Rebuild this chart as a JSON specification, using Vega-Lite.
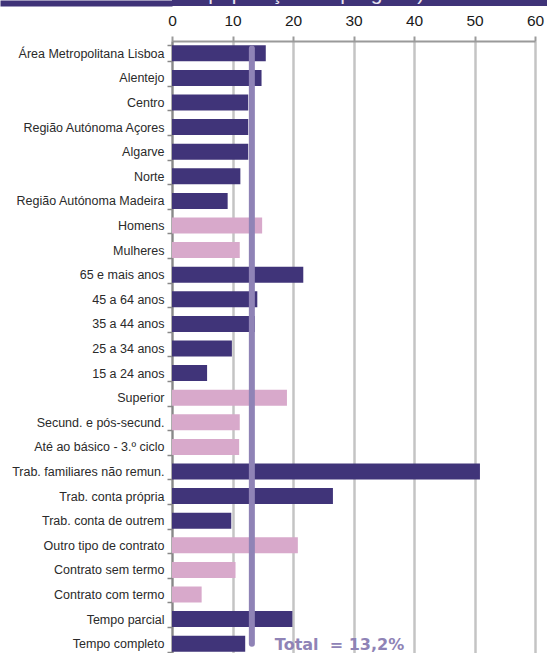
{
  "$schema": "https://vega.github.io/schema/vega-lite/v6.json",
  "padding": {"left": -3, "top": 0, "right": 0, "bottom": 0},
  "background": "white",
  "spacing": 7,
  "config": {"view": {"stroke": null}},
  "datasets": {
    "bars": [
      {"cat": "Área Metropolitana Lisboa", "v": 15.5, "g": "d"},
      {"cat": "Alentejo", "v": 14.8, "g": "d"},
      {"cat": "Centro", "v": 12.6, "g": "d"},
      {"cat": "Região Autónoma Açores", "v": 12.6, "g": "d"},
      {"cat": "Algarve", "v": 12.6, "g": "d"},
      {"cat": "Norte", "v": 11.3, "g": "d"},
      {"cat": "Região Autónoma Madeira", "v": 9.2, "g": "d"},
      {"cat": "Homens", "v": 14.9, "g": "p"},
      {"cat": "Mulheres", "v": 11.2, "g": "p"},
      {"cat": "65 e mais anos", "v": 21.7, "g": "d"},
      {"cat": "45 a 64 anos", "v": 14.1, "g": "d"},
      {"cat": "35 a 44 anos", "v": 13.7, "g": "d"},
      {"cat": "25 a 34 anos", "v": 9.9, "g": "d"},
      {"cat": "15 a 24 anos", "v": 5.8, "g": "d"},
      {"cat": "Superior", "v": 19.0, "g": "p"},
      {"cat": "Secund. e pós-secund.", "v": 11.2, "g": "p"},
      {"cat": "Até ao básico - 3.º ciclo", "v": 11.1, "g": "p"},
      {"cat": "Trab. familiares não remun.", "v": 50.9, "g": "d"},
      {"cat": "Trab. conta própria", "v": 26.6, "g": "d"},
      {"cat": "Trab. conta de outrem", "v": 9.8, "g": "d"},
      {"cat": "Outro tipo de contrato", "v": 20.8, "g": "p"},
      {"cat": "Contrato sem termo", "v": 10.5, "g": "p"},
      {"cat": "Contrato com termo", "v": 4.9, "g": "p"},
      {"cat": "Tempo parcial", "v": 19.9, "g": "d"},
      {"cat": "Tempo completo", "v": 12.1, "g": "d"}
    ],
    "total": [
      {"x": 13.2, "top": "Área Metropolitana Lisboa", "bot": "Tempo completo", "label": "Total\u00a0 = 13,2%", "lx": 17.0}
    ]
  },
  "vconcat": [
    {
      "width": 375,
      "height": 6,
      "view": {"fill": "#3f3378", "stroke": null},
      "data": {"values": [{"t": "(em % da população empregada)"}]},
      "mark": {"type": "text", "clip": true, "fontSize": 21, "font": "Liberation Sans", "color": "#e8e5f2", "baseline": "alphabetic", "dy": -3, "dx": -91},
      "encoding": {
        "text": {"field": "t", "type": "nominal"},
        "y": {
          "field": "t", "type": "nominal",
          "scale": {"paddingInner": 0, "paddingOuter": 0},
          "axis": {
            "title": null, "labels": false, "domain": false, "grid": false,
            "ticks": true, "tickSize": 172, "tickWidth": 6, "tickColor": "#3f3378",
            "tickCap": "butt", "minExtent": 0, "maxExtent": 180
          }
        }
      }
    },
    {
      "width": 363,
      "height": 615,
      "layer": [
        {
          "data": {"name": "bars"},
          "mark": {"type": "bar"},
          "encoding": {
            "y": {
              "field": "cat", "type": "nominal", "sort": null,
              "scale": {"paddingInner": 0.35, "paddingOuter": 0.175},
              "axis": {
                "title": null, "grid": false, "tickBand": "extent",
                "domainColor": "#888888", "domainWidth": 2,
                "tickColor": "#888888", "tickWidth": 1.5, "tickSize": 5,
                "labelFont": "Liberation Sans", "labelFontSize": 12.5, "labelColor": "#2a2a2a",
                "labelPadding": 3, "minExtent": 172, "labelLimit": 300
              }
            },
            "x": {
              "field": "v", "type": "quantitative",
              "scale": {"domain": [0, 60]},
              "axis": {
                "orient": "top", "title": null, "values": [0, 10, 20, 30, 40, 50, 60],
                "grid": true, "gridColor": "#c4c4c4", "gridWidth": 2.5,
                "domainColor": "#9a9a9a", "domainWidth": 2,
                "tickColor": "#9a9a9a", "tickWidth": 2, "tickSize": 5,
                "labelFont": "Liberation Sans", "labelFontSize": 15.5, "labelColor": "#1a1a1a",
                "labelPadding": 8, "labelFlush": false
              }
            },
            "color": {
              "field": "g", "type": "nominal",
              "scale": {"domain": ["d", "p"], "range": ["#403479", "#d8a9cb"]},
              "legend": null
            }
          }
        },
        {
          "data": {"name": "total"},
          "mark": {"type": "rule", "strokeWidth": 6, "strokeCap": "round", "color": "#8f83b6"},
          "encoding": {
            "x": {"field": "x", "type": "quantitative"},
            "y": {"field": "top", "type": "nominal", "sort": null, "bandPosition": 0.2},
            "y2": {"field": "bot"}
          }
        },
        {
          "data": {"name": "total"},
          "mark": {"type": "text", "align": "left", "baseline": "alphabetic", "dy": 6, "fontSize": 16, "fontWeight": "bold", "font": "DejaVu Sans", "color": "#8f83b6"},
          "encoding": {
            "x": {"field": "lx", "type": "quantitative"},
            "y": {"field": "bot", "type": "nominal", "sort": null},
            "text": {"field": "label", "type": "nominal"}
          }
        }
      ]
    }
  ]
}
